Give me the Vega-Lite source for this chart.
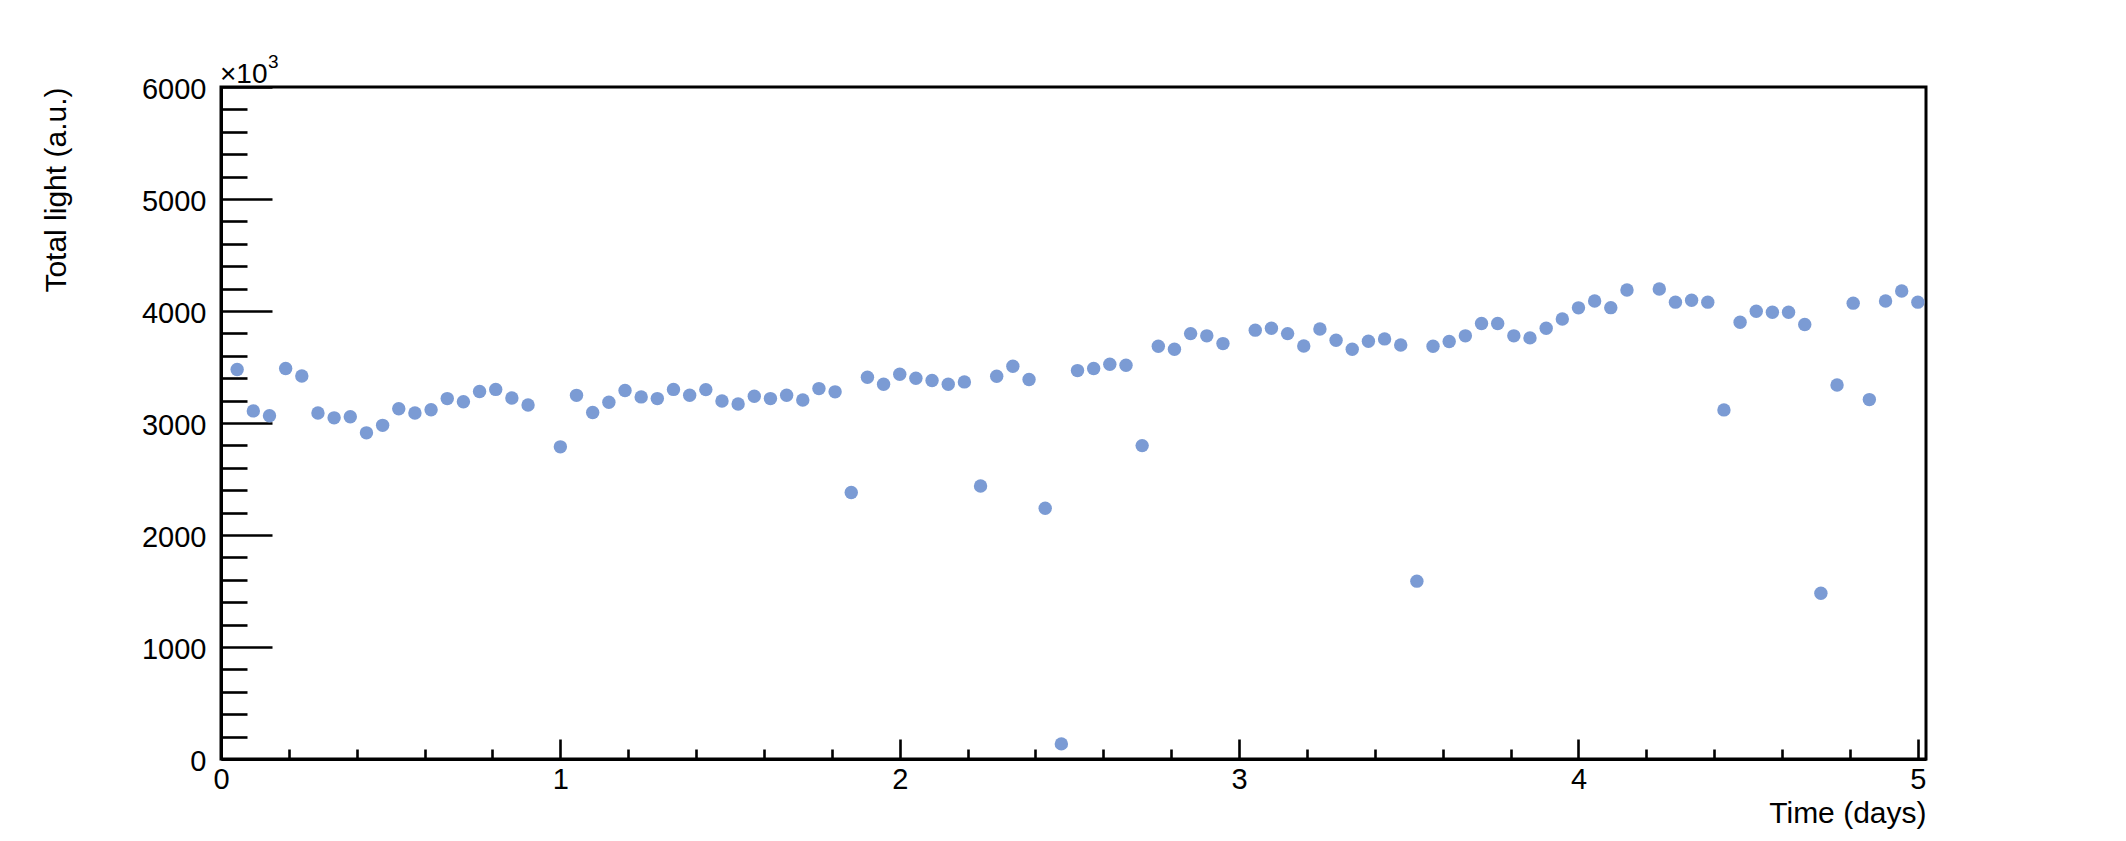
{
  "$schema": "https://vega.github.io/schema/vega-lite/v6.json",
  "width": 1705,
  "height": 672,
  "autosize": {"type": "none"},
  "padding": {"left": 221, "top": 87, "right": 200, "bottom": 82},
  "background": "white",
  "config": {
    "view": {"stroke": "black", "strokeWidth": 3},
    "font": "Liberation Sans",
    "axis": {
      "domainColor": "black",
      "domainWidth": 3,
      "tickColor": "black",
      "tickWidth": 2.6,
      "labelColor": "black",
      "titleColor": "black",
      "labelFont": "Liberation Sans",
      "titleFont": "Liberation Sans",
      "grid": false
    }
  },
  "resolve": {"axis": {"x": "independent", "y": "independent"}},
  "layer": [
    {
      "data": {
        "values": [
          {"t": 0.0476, "light": 3477}, {"t": 0.0952, "light": 3108}, {"t": 0.1429, "light": 3065},
          {"t": 0.1905, "light": 3487}, {"t": 0.2381, "light": 3420}, {"t": 0.2857, "light": 3089},
          {"t": 0.3333, "light": 3046}, {"t": 0.381, "light": 3056}, {"t": 0.4286, "light": 2912},
          {"t": 0.4762, "light": 2979}, {"t": 0.5238, "light": 3127}, {"t": 0.5714, "light": 3089},
          {"t": 0.619, "light": 3118}, {"t": 0.6667, "light": 3218}, {"t": 0.7143, "light": 3190},
          {"t": 0.7619, "light": 3281}, {"t": 0.8095, "light": 3300}, {"t": 0.8571, "light": 3223},
          {"t": 0.9048, "light": 3161}, {"t": 1.0, "light": 2787}, {"t": 1.0476, "light": 3247},
          {"t": 1.0952, "light": 3094}, {"t": 1.1429, "light": 3185}, {"t": 1.1905, "light": 3290},
          {"t": 1.2381, "light": 3233}, {"t": 1.2857, "light": 3218}, {"t": 1.3333, "light": 3300},
          {"t": 1.381, "light": 3248}, {"t": 1.4286, "light": 3298}, {"t": 1.4762, "light": 3197},
          {"t": 1.5238, "light": 3170}, {"t": 1.5714, "light": 3239}, {"t": 1.619, "light": 3218},
          {"t": 1.6667, "light": 3248}, {"t": 1.7143, "light": 3206}, {"t": 1.7619, "light": 3307},
          {"t": 1.8095, "light": 3278}, {"t": 1.8571, "light": 2379}, {"t": 1.9048, "light": 3409},
          {"t": 1.9524, "light": 3346}, {"t": 2.0, "light": 3436}, {"t": 2.0476, "light": 3400},
          {"t": 2.0952, "light": 3379}, {"t": 2.1429, "light": 3346}, {"t": 2.1905, "light": 3367},
          {"t": 2.2381, "light": 2438}, {"t": 2.2857, "light": 3418}, {"t": 2.3333, "light": 3507},
          {"t": 2.381, "light": 3388}, {"t": 2.4286, "light": 2239}, {"t": 2.4762, "light": 135},
          {"t": 2.5238, "light": 3468}, {"t": 2.5714, "light": 3486}, {"t": 2.619, "light": 3525},
          {"t": 2.6667, "light": 3516}, {"t": 2.7143, "light": 2798}, {"t": 2.7619, "light": 3686},
          {"t": 2.8095, "light": 3659}, {"t": 2.8571, "light": 3798}, {"t": 2.9048, "light": 3778},
          {"t": 2.9524, "light": 3709}, {"t": 3.0476, "light": 3829}, {"t": 3.0952, "light": 3846},
          {"t": 3.1429, "light": 3798}, {"t": 3.1905, "light": 3688}, {"t": 3.2381, "light": 3840},
          {"t": 3.2857, "light": 3739}, {"t": 3.3333, "light": 3659}, {"t": 3.381, "light": 3730},
          {"t": 3.4286, "light": 3751}, {"t": 3.4762, "light": 3697}, {"t": 3.5238, "light": 1588},
          {"t": 3.5714, "light": 3686}, {"t": 3.619, "light": 3727}, {"t": 3.6667, "light": 3778},
          {"t": 3.7143, "light": 3888}, {"t": 3.7619, "light": 3888}, {"t": 3.8095, "light": 3778},
          {"t": 3.8571, "light": 3760}, {"t": 3.9048, "light": 3846}, {"t": 3.9524, "light": 3929},
          {"t": 4.0, "light": 4028}, {"t": 4.0476, "light": 4090}, {"t": 4.0952, "light": 4030},
          {"t": 4.1429, "light": 4188}, {"t": 4.2381, "light": 4197}, {"t": 4.2857, "light": 4079},
          {"t": 4.3333, "light": 4096}, {"t": 4.381, "light": 4079}, {"t": 4.4286, "light": 3117},
          {"t": 4.4762, "light": 3900}, {"t": 4.5238, "light": 3998}, {"t": 4.5714, "light": 3989},
          {"t": 4.619, "light": 3989}, {"t": 4.6667, "light": 3879}, {"t": 4.7143, "light": 1480},
          {"t": 4.7619, "light": 3340}, {"t": 4.8095, "light": 4070}, {"t": 4.8571, "light": 3209},
          {"t": 4.9048, "light": 4090}, {"t": 4.9524, "light": 4179}, {"t": 5.0, "light": 4079}
        ]
      },
      "mark": {"type": "circle", "size": 180, "color": "#7b9bd4", "opacity": 1},
      "encoding": {
        "x": {
          "field": "t", "type": "quantitative",
          "scale": {"domain": [0, 5.024], "nice": false, "zero": false},
          "axis": {
            "orient": "bottom",
            "values": [0, 1, 2, 3, 4, 5],
            "format": "d",
            "ticks": false, "tickSize": 0,
            "labelFontSize": 29, "labelPadding": 29, "labelBaseline": "alphabetic",
            "labelFlush": false, "labelOverlap": false,
            "title": "Time (days)", "titleFontSize": 30, "titleFontWeight": "normal",
            "titleAnchor": null, "titleX": 1705, "titleY": 63,
            "titleAlign": "right", "titleBaseline": "alphabetic"
          }
        },
        "y": {
          "field": "light", "type": "quantitative",
          "scale": {"domain": [0, 6000], "nice": false},
          "axis": {
            "orient": "left",
            "values": [0, 1000, 2000, 3000, 4000, 5000, 6000],
            "format": "d",
            "ticks": false, "tickSize": 0,
            "labelFontSize": 29, "labelPadding": 15, "labelBaseline": "middle", "labelOffset": 2,
            "labelFlush": false, "labelOverlap": false,
            "title": "Total light (a.u.)", "titleFontSize": 30, "titleFontWeight": "normal",
            "titleAnchor": null, "titleX": -165, "titleY": 0, "titleAngle": -90,
            "titleAlign": "right", "titleBaseline": "middle"
          }
        }
      }
    },
    {
      "data": {"values": [{"label": "×10"}]},
      "mark": {"type": "text", "fontSize": 28, "fontWeight": "normal", "align": "left", "baseline": "alphabetic", "dx": -1, "dy": -4, "color": "black"},
      "encoding": {
        "text": {"field": "label"},
        "x": {
          "datum": 0, "type": "quantitative",
          "axis": {"orient": "bottom", "values": [0, 1, 2, 3, 4, 5], "tickSize": -20, "labels": false, "domain": false, "title": null, "grid": false}
        },
        "y": {
          "datum": 6000, "type": "quantitative",
          "axis": {"orient": "left", "values": [0, 1000, 2000, 3000, 4000, 5000, 6000], "tickSize": -51, "labels": false, "domain": false, "title": null, "grid": false}
        }
      }
    },
    {
      "data": {"values": [{"label": "3"}]},
      "mark": {"type": "text", "fontSize": 19, "fontWeight": "normal", "align": "left", "baseline": "alphabetic", "dx": 47, "dy": -19, "color": "black"},
      "encoding": {
        "text": {"field": "label"},
        "x": {
          "datum": 0, "type": "quantitative",
          "axis": {"orient": "bottom", "values": [0.2, 0.4, 0.6, 0.8, 1.2, 1.4, 1.6, 1.8, 2.2, 2.4, 2.6, 2.8, 3.2, 3.4, 3.6, 3.8, 4.2, 4.4, 4.6, 4.8], "tickSize": -10, "labels": false, "domain": false, "title": null, "grid": false}
        },
        "y": {
          "datum": 6000, "type": "quantitative",
          "axis": {"orient": "left", "values": [200, 400, 600, 800, 1200, 1400, 1600, 1800, 2200, 2400, 2600, 2800, 3200, 3400, 3600, 3800, 4200, 4400, 4600, 4800, 5200, 5400, 5600, 5800], "tickSize": -26, "labels": false, "domain": false, "title": null, "grid": false}
        }
      }
    }
  ]
}
